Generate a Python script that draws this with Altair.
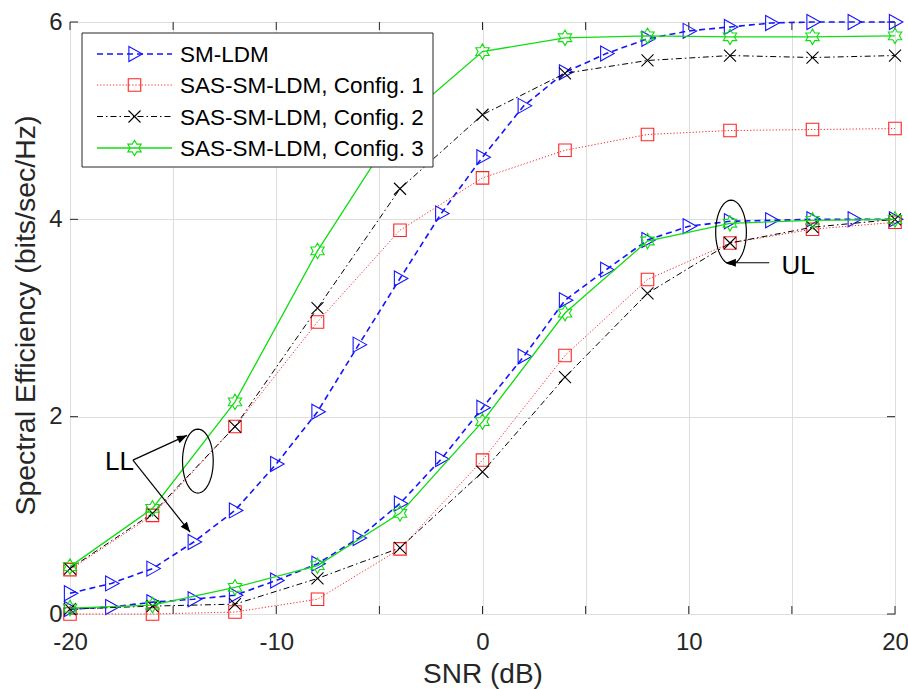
import altair as alt
import pandas as pd
import numpy as np

# ---------------- data ----------------
snr_fine = list(range(-20, 21, 2))      # SM-LDM sampled every 2 dB
snr_coarse = list(range(-20, 21, 4))    # SAS configs sampled every 4 dB

sm_ldm_ll = [0.21, 0.31, 0.46, 0.73, 1.05, 1.52, 2.05, 2.73, 3.40, 4.06, 4.63,
             5.15, 5.49, 5.68, 5.83, 5.91, 5.95, 5.99, 6.00, 6.00, 6.00]
sm_ldm_ul = [0.05, 0.07, 0.12, 0.15, 0.19, 0.34, 0.51, 0.77, 1.12, 1.57, 2.09,
             2.61, 3.18, 3.49, 3.79, 3.93, 3.98, 3.99, 4.00, 4.00, 4.00]

cfg1_ll = [0.45, 1.00, 1.90, 2.96, 3.89, 4.42, 4.70, 4.86, 4.90, 4.91, 4.92]
cfg1_ul = [0.00, 0.00, 0.02, 0.15, 0.66, 1.56, 2.62, 3.39, 3.76, 3.90, 3.97]
cfg2_ll = [0.46, 1.02, 1.90, 3.10, 4.31, 5.06, 5.48, 5.61, 5.66, 5.64, 5.66]
cfg2_ul = [0.05, 0.08, 0.10, 0.36, 0.67, 1.44, 2.40, 3.25, 3.76, 3.92, 4.00]
cfg3_ll = [0.48, 1.07, 2.15, 3.68, 4.98, 5.70, 5.84, 5.86, 5.85, 5.85, 5.86]
cfg3_ul = [0.06, 0.09, 0.27, 0.49, 1.02, 1.95, 3.05, 3.78, 3.96, 3.99, 4.00]

series_names = ["SM-LDM", "SAS-SM-LDM, Config. 1",
                "SAS-SM-LDM, Config. 2", "SAS-SM-LDM, Config. 3"]

x_tick_values = [-20, -15, -10, -5, 0, 5, 10, 15, 20]
y_tick_values = [0, 2, 4, 6]

# annotation positions (data coordinates)
ll_text = {"x": [-17.6], "y": [1.54], "t": ["LL"]}
ul_text = {"x": [14.5], "y": [3.53], "t": ["UL"]}
ellipse_x = [-13.8, 12.05]
ellipse_y = [1.55, 3.87]
arrow_x = [-16.95, -16.95, 13.9]
arrow_y = [1.56, 1.56, 3.56]
arrow_x2 = [-14.33, -14.18, 11.8]
arrow_y2 = [1.81, 0.83, 3.56]
arrow_angle = [65.2, 141.6, 270]

# ---------------- build tables ----------------
rows = []
for name, snr, ll, ul in [
    (series_names[0], snr_fine, sm_ldm_ll, sm_ldm_ul),
    (series_names[1], snr_coarse, cfg1_ll, cfg1_ul),
    (series_names[2], snr_coarse, cfg2_ll, cfg2_ul),
    (series_names[3], snr_coarse, cfg3_ll, cfg3_ul),
]:
    for s, v in zip(snr, ll):
        rows.append({"series": name, "link": "LL", "snr": s, "se": v})
    for s, v in zip(snr, ul):
        rows.append({"series": name, "link": "UL", "snr": s, "se": v})
df = pd.DataFrame(rows)

FONT = "Liberation Sans"
W, H = 825, 592
AX = "#262626"

TRI = "M-0.75,-1L1.05,0L-0.75,1Z"
SQ = "M-1,-1L1,-1L1,1L-1,1Z"
XM = "M-1,-1L1,1M-1,1L1,-1"
HEX = ("M0,-1L0.2887,-0.5L0.866,-0.5L0.577,0L0.866,0.5L0.2887,0.5L0,1"
       "L-0.2887,0.5L-0.866,0.5L-0.577,0L-0.866,-0.5L-0.2887,-0.5Z")
t = np.linspace(0, 2 * np.pi, 49)[:-1]
ELL = "M" + "L".join(f"{0.48*np.cos(a):.3f},{np.sin(a):.3f}" for a in t) + "Z"
ARROW = "M0,0L0.8,2L-0.8,2Z"

styles = [
    dict(color="#1414ff", dash=[6, 4], width=1.6, shape=TRI, size=225),
    dict(color="#ff2222", dash=[1.2, 2], width=1.0, shape=SQ, size=156),
    dict(color="#000000", dash=[6, 3, 1.5, 3], width=1.0, shape=XM, size=144),
    dict(color="#11dd11", dash=None, width=1.3, shape=HEX, size=240),
]

xs = alt.Scale(domain=[-20, 20], nice=False, zero=False)
ys = alt.Scale(domain=[0, 6], nice=False, zero=False)

x_axis = alt.Axis(
    values=x_tick_values,
    labelExpr="datum.value % 10 == 0 ? '' + datum.value : ''",
    grid=True, gridColor="#dedede", gridWidth=1,
    ticks=False, domain=False, labelOverlap=False, labelFlush=False,
    labelFont=FONT, labelFontSize=24, labelColor=AX, labelPadding=16,
    title="SNR (dB)", titleFont=FONT, titleFontSize=28, titleFontWeight="normal",
    titleColor=AX, titleX=W / 2, titleY=68, titleAlign="center",
    titleBaseline="alphabetic",
)
y_axis = alt.Axis(
    values=y_tick_values,
    grid=True, gridColor="#dedede", gridWidth=1,
    ticks=False, domain=False, labelOverlap=False,
    labelFont=FONT, labelFontSize=24, labelColor=AX, labelPadding=8,
    title="Spectral Efficiency (bits/sec/Hz)", titleFont=FONT, titleFontSize=28.5,
    titleFontWeight="normal", titleColor=AX, titleX=-45, titleY=H / 2 - 3,
    titleAngle=270, titleAlign="center", titleBaseline="middle",
)


def X(field):
    return alt.X(f"{field}:Q", scale=xs, axis=x_axis)


def Y(field):
    return alt.Y(f"{field}:Q", scale=ys, axis=y_axis)


layers = []

# inward ticks (MATLAB style)
xt = pd.DataFrame({"v": x_tick_values})
yt = pd.DataFrame({"v": y_tick_values})
layers.append(alt.Chart(xt).mark_rule(color=AX, strokeWidth=1).encode(
    x=X("v"), y=alt.value(H - 8), y2=alt.value(H)))
layers.append(alt.Chart(xt).mark_rule(color=AX, strokeWidth=1).encode(
    x=X("v"), y=alt.value(0), y2=alt.value(8)))
layers.append(alt.Chart(yt).mark_rule(color=AX, strokeWidth=1).encode(
    y=Y("v"), x=alt.value(0), x2=alt.value(8)))
layers.append(alt.Chart(yt).mark_rule(color=AX, strokeWidth=1).encode(
    y=Y("v"), x=alt.value(W - 8), x2=alt.value(W)))

# data series
for name, st in zip(series_names, styles):
    sub = df[df.series == name]
    lkw = dict(color=st["color"], strokeWidth=st["width"])
    if st["dash"]:
        lkw["strokeDash"] = st["dash"]
    layers.append(alt.Chart(sub).mark_line(**lkw).encode(
        x=X("snr"), y=Y("se"), detail="link:N", order="snr:Q"))
    layers.append(alt.Chart(sub).mark_point(
        shape=st["shape"], size=st["size"], filled=False, color=st["color"],
        strokeWidth=1.1, opacity=1).encode(x=X("snr"), y=Y("se")))

# annotations
ell_df = pd.DataFrame({"x": ellipse_x, "y": ellipse_y})
layers.append(alt.Chart(ell_df).mark_point(
    shape=ELL, size=4096, filled=False, color="black", strokeWidth=1.2,
    opacity=1).encode(x=X("x"), y=Y("y")))
arr_df = pd.DataFrame({"x": arrow_x, "y": arrow_y, "x2": arrow_x2,
                       "y2": arrow_y2, "a": arrow_angle})
layers.append(alt.Chart(arr_df).mark_rule(color="black", strokeWidth=1.2).encode(
    x=X("x"), y=Y("y"), x2="x2:Q", y2="y2:Q"))
layers.append(alt.Chart(arr_df).mark_point(
    shape=ARROW, size=100, filled=True, color="black", opacity=1).encode(
    x=X("x2"), y=Y("y2"), angle=alt.Angle("a:Q", scale=None)))
for d in (ll_text, ul_text):
    layers.append(alt.Chart(pd.DataFrame(d)).mark_text(
        font=FONT, fontSize=26, align="left" if d is ul_text else "center",
        baseline="middle", color="black").encode(
        x=X("x"), y=Y("y"), text="t:N"))

# legend (MATLAB style box)
one = pd.DataFrame({"k": [0]})
layers.append(alt.Chart(one).mark_rect(
    fill="white", stroke=AX, strokeWidth=1).encode(
    x=alt.value(12), x2=alt.value(363), y=alt.value(11), y2=alt.value(145)))
row_y = [32, 63, 94.5, 126]
for name, st, ry in zip(series_names, styles, row_y):
    lkw = dict(color=st["color"], strokeWidth=st["width"])
    if st["dash"]:
        lkw["strokeDash"] = st["dash"]
    ld = pd.DataFrame({"label": [name]})
    layers.append(alt.Chart(ld).mark_rule(**lkw).encode(
        x=alt.value(27), x2=alt.value(102), y=alt.value(ry)))
    layers.append(alt.Chart(ld).mark_point(
        shape=st["shape"], size=st["size"], filled=False, color=st["color"],
        strokeWidth=1.1, opacity=1).encode(x=alt.value(64.5), y=alt.value(ry)))
    layers.append(alt.Chart(ld).mark_text(
        font=FONT, fontSize=22.5, align="left", baseline="middle",
        color="black").encode(x=alt.value(110), y=alt.value(ry + 1),
                              text="label:N"))

chart = alt.layer(*layers).properties(
    width=W, height=H,
    autosize=alt.AutoSizeParams(type="none"),
    padding={"left": 70, "top": 22, "right": 13, "bottom": 75},
    background="white",
).configure_view(stroke="#404040", strokeWidth=1)

chart.save("out.html", embed_options={"renderer": "svg", "actions": False})
